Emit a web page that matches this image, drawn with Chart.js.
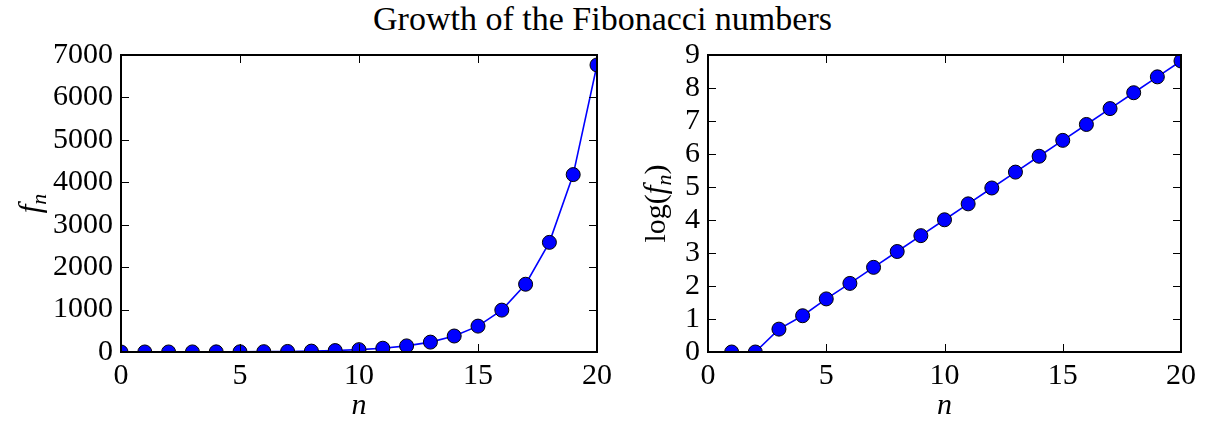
<!DOCTYPE html>
<html lang="en">
<head>
    <meta charset="UTF-8">
    <title>Growth of the Fibonacci numbers</title>
    <script src="https://cdn.jsdelivr.net/npm/chart.js@4.4.0/dist/chart.umd.min.js"></script>
    <style>
        body { margin: 0; width: 1205px; height: 428px; background: #fff; position: relative; overflow: hidden; }
        #title { position: absolute; top: 0px; left: 0; width: 1205px; text-align: center;
                 font-family: "Liberation Serif", serif; font-size: 34px; color: #000; }
        canvas { position: absolute; top: 0; }
    </style>
</head>
<body>
    <div id="title">Growth of the Fibonacci numbers</div>
    <canvas id="left" width="618" height="428" style="left:0"></canvas>
    <canvas id="right" width="595" height="428" style="left:610px"></canvas>
    <script>
        // values
        const nAll = [0,1,2,3,4,5,6,7,8,9,10,11,12,13,14,15,16,17,18,19,20];
        const fib = [0,1,1,2,3,5,8,13,21,34,55,89,144,233,377,610,987,1597,2584,4181,6765];
        const nLog = [1,2,3,4,5,6,7,8,9,10,11,12,13,14,15,16,17,18,19,20];
        const logFib = [0,0,0.693,1.099,1.609,2.079,2.565,3.045,3.526,4.007,4.489,4.970,5.451,5.932,6.413,6.895,7.376,7.857,8.338,8.819];

        const SERIF = '"Liberation Serif", serif';

        // matplotlib classic look: box frame + inward ticks on all sides
        const framePlugin = {
            id: 'frame',
            afterDatasetsDraw(chart) {
                const { ctx, chartArea: a, scales } = chart;
                ctx.save();
                ctx.strokeStyle = '#000';
                ctx.lineWidth = 1;
                const L = 8;
                scales.x.ticks.forEach(t => {
                    const px = Math.round(scales.x.getPixelForValue(t.value)) + 0.5;
                    ctx.beginPath();
                    ctx.moveTo(px, a.bottom); ctx.lineTo(px, a.bottom - L);
                    ctx.moveTo(px, a.top); ctx.lineTo(px, a.top + L);
                    ctx.stroke();
                });
                scales.y.ticks.forEach(t => {
                    const py = Math.round(scales.y.getPixelForValue(t.value)) + 0.5;
                    ctx.beginPath();
                    ctx.moveTo(a.left, py); ctx.lineTo(a.left + L, py);
                    ctx.moveTo(a.right, py); ctx.lineTo(a.right - L, py);
                    ctx.stroke();
                });
                ctx.lineWidth = 2;
                ctx.strokeRect(a.left, a.top, a.right - a.left, a.bottom - a.top);
                ctx.restore();
            }
        };

        // y axis title with italic f and subscript n
        function yTitlePlugin(x, before, after) {
            return {
                id: 'ytitle',
                afterDraw(chart) {
                    const { ctx, chartArea: a } = chart;
                    const parts = [
                        { t: before, f: '30px ' + SERIF, dy: 0 },
                        { t: 'f', f: 'italic 31px ' + SERIF, dy: 0 },
                        { t: 'n', f: 'italic 22px ' + SERIF, dy: 6 },
                        { t: after, f: '30px ' + SERIF, dy: 0 }
                    ];
                    ctx.save();
                    let w = 0;
                    parts.forEach(p => { ctx.font = p.f; p.w = ctx.measureText(p.t).width; w += p.w; });
                    ctx.translate(x, (a.top + a.bottom) / 2);
                    ctx.rotate(-Math.PI / 2);
                    ctx.fillStyle = '#000';
                    ctx.textBaseline = 'alphabetic';
                    let cx = -w / 2;
                    parts.forEach(p => { ctx.font = p.f; ctx.fillText(p.t, cx, 10 + p.dy); cx += p.w; });
                    ctx.restore();
                }
            };
        }

        function makeChart(id, xs, ys, yMax, yStep, leftW, padRight, yTitleX, before, after) {
            const ctx = document.getElementById(id).getContext('2d');
            return new Chart(ctx, {
                type: 'line',
                data: {
                    datasets: [{
                        data: xs.map((x, i) => ({ x: x, y: ys[i] })),
                        borderColor: '#0000ff',
                        borderWidth: 1.6,
                        backgroundColor: '#0000ff',
                        pointBackgroundColor: '#0000ff',
                        pointBorderColor: '#000',
                        pointBorderWidth: 1,
                        pointRadius: 7,
                        tension: 0,
                        clip: 0
                    }]
                },
                options: {
                    responsive: false,
                    animation: false,
                    events: [],
                    layout: { padding: { top: 55, right: padRight, left: 0, bottom: 0 } },
                    plugins: { legend: { display: false }, tooltip: { enabled: false } },
                    scales: {
                        x: {
                            type: 'linear', min: 0, max: 20,
                            ticks: { stepSize: 5, color: '#000', padding: 6, maxRotation: 0,
                                     autoSkip: false, callback: v => String(v),
                                     font: { family: SERIF, size: 30 } },
                            grid: { display: false, drawTicks: false },
                            border: { display: false },
                            title: { display: true, text: 'n', color: '#000', padding: { top: 8 },
                                     font: { family: SERIF, size: 30, style: 'italic' } },
                            afterFit(s) { s.height = 76; }
                        },
                        y: {
                            min: 0, max: yMax,
                            ticks: { stepSize: yStep, color: '#000', padding: 8,
                                     autoSkip: false, callback: v => String(v),
                                     font: { family: SERIF, size: 30 } },
                            grid: { display: false, drawTicks: false },
                            border: { display: false },
                            afterFit(s) { s.width = leftW; }
                        }
                    }
                },
                plugins: [framePlugin, yTitlePlugin(yTitleX, before, after)]
            });
        }

        makeChart('left', nAll, fib, 7000, 1000, 121, 10, 30, '', '');
        makeChart('right', nLog, logFib, 9, 1, 98, 24, 45, 'log(', ')');
    </script>
</body>
</html>
